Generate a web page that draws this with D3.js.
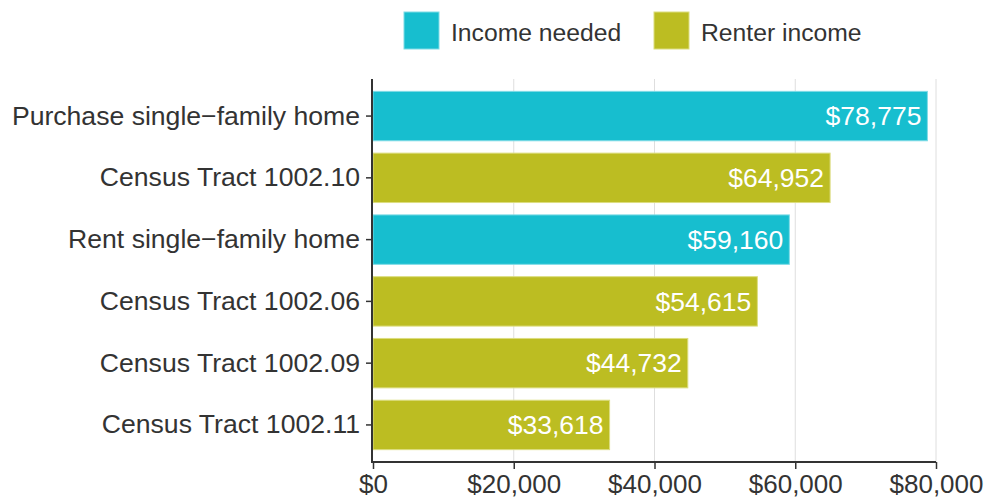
<!DOCTYPE html>
<html>
<head>
<meta charset="utf-8">
<script src="https://cdn.jsdelivr.net/npm/d3@7"></script>
<style>
  html, body { margin: 0; padding: 0; background: #fff; }
  svg { display: block; font-family: "Liberation Sans", Arial, sans-serif; }
</style>
</head>
<body>
<svg id="chart" width="988" height="502"></svg>
<script>
// Income comparisons by category
const categories = [
  "Purchase single\u2212family home",
  "Census Tract 1002.10",
  "Rent single\u2212family home",
  "Census Tract 1002.06",
  "Census Tract 1002.09",
  "Census Tract 1002.11"
];
const values = [78775, 64952, 59160, 54615, 44732, 33618];
const groups = ["Income needed", "Renter income", "Income needed", "Renter income", "Renter income", "Renter income"];
const legendKeys = ["Income needed", "Renter income"];
const xTicks = [0, 20000, 40000, 60000, 80000];

const svg = d3.select("#chart");
const margin = { top: 79, right: 52, bottom: 40, left: 373 };
const W = 988, H = 502;

const x = d3.scaleLinear().domain([0, 80000]).range([margin.left, W - margin.right]);
const y = d3.scaleBand().domain(categories).range([margin.top, H - margin.bottom]).padding(0.2);
const color = d3.scaleOrdinal().domain(legendKeys).range(["#17BECF", "#BCBD22"]);
const edge = d3.scaleOrdinal().domain(legendKeys).range(["#7fdbe6", "#dcdd7f"]);
const fmt = d3.format("$,");

// vertical gridlines
svg.append("g")
  .selectAll("line")
  .data(xTicks.slice(1))
  .join("line")
  .attr("x1", d => x(d)).attr("x2", d => x(d))
  .attr("y1", margin.top).attr("y2", H - margin.bottom)
  .attr("stroke", "#dedede").attr("stroke-width", 1);

// bars
svg.append("g")
  .selectAll("rect")
  .data(categories)
  .join("rect")
  .attr("x", x(0))
  .attr("y", d => y(d))
  .attr("width", (d, i) => x(values[i]) - x(0))
  .attr("height", y.bandwidth())
  .attr("fill", (d, i) => color(groups[i]))
  .attr("stroke", (d, i) => edge(groups[i]))
  .attr("stroke-width", 1);

// value labels inside bars
svg.append("g")
  .selectAll("text")
  .data(categories)
  .join("text")
  .attr("x", (d, i) => x(values[i]) - 6)
  .attr("y", d => y(d) + y.bandwidth() / 2)
  .attr("dy", "0.35em")
  .attr("text-anchor", "end")
  .attr("fill", "#fff")
  .attr("font-size", 26.5)
  .text((d, i) => fmt(values[i]));

// axes
const xAxis = svg.append("g")
  .attr("transform", `translate(0,${H - margin.bottom})`)
  .call(d3.axisBottom(x).tickValues(xTicks).tickFormat(fmt).tickSizeOuter(0).tickSize(7).tickPadding(6));
const yAxis = svg.append("g")
  .attr("transform", `translate(${margin.left - 1},0)`)
  .call(d3.axisLeft(y).tickSizeOuter(0).tickSize(6).tickPadding(6));

[xAxis, yAxis].forEach(g => {
  g.select(".domain").attr("stroke", "#333").attr("stroke-width", 2);
  g.selectAll(".tick line").attr("stroke", "#333").attr("stroke-width", 1.5);
  g.selectAll(".tick text").attr("fill", "#333")
    .attr("font-family", "'Liberation Sans', Arial, sans-serif");
});
xAxis.selectAll(".tick text").attr("font-size", 26);
yAxis.selectAll(".tick text").attr("font-size", 26.6);
yAxis.select(".domain").attr("d", `M0,${margin.top}V${H - margin.bottom}`);
xAxis.select(".domain").attr("d", `M${x(0) - 2},0H${x(80000)}`);

// legend
const legend = svg.append("g");
const legendX = [404, 654];
legendKeys.forEach((k, i) => {
  const g = legend.append("g").attr("transform", `translate(${legendX[i]},12)`);
  g.append("rect").attr("width", 35).attr("height", 37)
    .attr("fill", color(k)).attr("stroke", edge(k)).attr("stroke-width", 1);
  g.append("text").attr("x", 47).attr("y", 20.5).attr("dy", "0.35em")
    .attr("fill", "#333").attr("font-size", 24.7).text(k);
});
</script>
</body>
</html>
